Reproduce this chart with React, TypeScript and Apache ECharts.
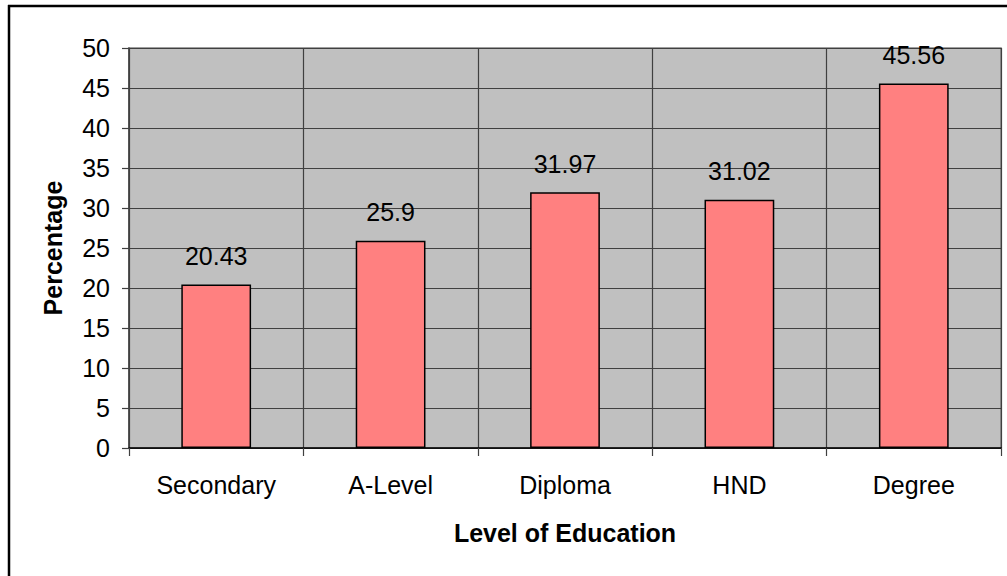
import React, { useEffect, useRef } from "react";
import * as echarts from "echarts";

const categories = ["Secondary", "A-Level", "Diploma", "HND", "Degree"];
const values = [20.43, 25.9, 31.97, 31.02, 45.56];
const valueLabels = ["20.43", "25.9", "31.97", "31.02", "45.56"];

const FONT = "'Liberation Sans', Arial, sans-serif";

export default function App() {
  const ref = useRef<HTMLDivElement>(null);
  useEffect(() => {
    if (!ref.current) return;
    const chart = echarts.init(ref.current, undefined, { renderer: "svg" });
    chart.setOption({
      animation: false,
      backgroundColor: "#ffffff",
      textStyle: { fontFamily: FONT },
      grid: {
        left: 129,
        top: 48,
        right: 6,
        bottom: 128,
        show: true,
        backgroundColor: "#c0c0c0",
        borderColor: "#808080",
        borderWidth: 1.5,
        containLabel: false,
      },
      xAxis: {
        type: "category",
        data: categories,
        boundaryGap: true,
        name: "Level of Education",
        nameLocation: "middle",
        nameGap: 72,
        nameTextStyle: { fontFamily: FONT, fontSize: 25, fontWeight: "bold", color: "#000" },
        axisLine: { show: true, lineStyle: { color: "#000", width: 1.5 } },
        axisTick: { show: true, length: 8, lineStyle: { color: "#404040", width: 1.2 } },
        axisLabel: { fontFamily: FONT, fontSize: 25, color: "#000", margin: 24 },
        splitLine: { show: true, lineStyle: { color: "#404040", width: 1.2 } },
      },
      yAxis: {
        type: "value",
        min: 0,
        max: 50,
        interval: 5,
        name: "Percentage",
        nameLocation: "middle",
        nameGap: 64,
        nameTextStyle: { fontFamily: FONT, fontSize: 25, fontWeight: "bold", color: "#000" },
        axisLine: { show: true, lineStyle: { color: "#404040", width: 1.5 } },
        axisTick: { show: true, length: 7, lineStyle: { color: "#404040", width: 1.2 } },
        axisLabel: { fontFamily: FONT, fontSize: 25, color: "#000", margin: 19 },
        splitLine: { show: true, lineStyle: { color: "#404040", width: 1.2 } },
      },
      series: [
        {
          type: "bar",
          data: values,
          barWidth: "40%",
          itemStyle: { color: "#ff8080", borderColor: "#000", borderWidth: 1.5 },
          label: {
            show: true,
            position: "top",
            distance: 16,
            fontFamily: FONT,
            fontSize: 25,
            color: "#000",
            formatter: (p: any) => valueLabels[p.dataIndex],
          },
        },
      ],
      graphic: [
        { type: "line", shape: { x1: 8, y1: 6, x2: 1007, y2: 6 }, style: { stroke: "#000", lineWidth: 2.5 } },
        { type: "line", shape: { x1: 9, y1: 5, x2: 9, y2: 576 }, style: { stroke: "#000", lineWidth: 2.5 } },
      ],
    });
    return () => chart.dispose();
  }, []);
  return (
    <div
      ref={ref}
      style={{ position: "fixed", left: 0, top: 0, width: 1007, height: 576 }}
    />
  );
}
